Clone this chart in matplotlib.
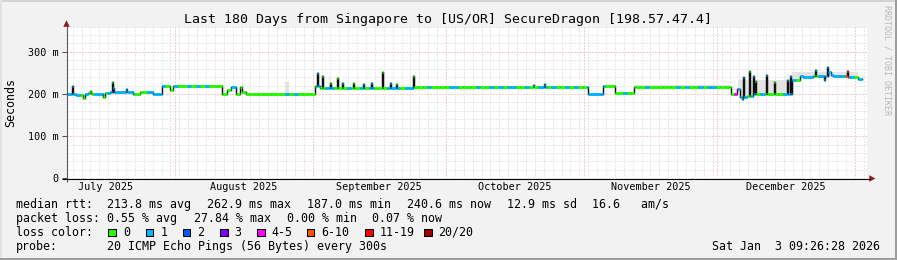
import numpy as np
import matplotlib
matplotlib.use("Agg")
import matplotlib.pyplot as plt
from matplotlib.collections import LineCollection
from matplotlib.patches import Rectangle, Polygon
from datetime import datetime, timedelta

plt.rcParams["font.family"] = ["DejaVu Sans Mono"]

# ---------------- data ----------------
TITLE = "Last 180 Days from Singapore to [US/OR] SecureDragon [198.57.47.4]"
WATERMARK = "RRDTOOL / TOBI OETIKER"
STAMP = "Sat Jan  3 09:26:28 2026"
AXIS_END = datetime(2026, 1, 3, 17, 26, 28)   # graph time axis (UTC+8 local)
SPAN_DAYS = 180
DATA_END = 178.9                              # last sample (days from left edge)

# median rtt baseline steps: start (days from left edge), value (ms)
base_day = [0.0, 2.0, 3.5, 4.1, 4.7, 5.6, 8.1, 8.6, 9.7, 10.8,
            14.9, 16.4, 19.4, 21.3, 23.2, 23.9,
            34.8, 36.0, 36.9, 38.0, 38.9, 39.4, 40.3, 55.8, 56.9, 59.2,
            74.0, 77.9, 117.3, 120.6,
            123.3, 127.6, 149.5, 150.8, 151.4, 153.0, 154.4, 163.1, 164.9, 165.6,
            167.9, 171.2, 171.9, 172.4, 175.5, 178.0]
base_ms = [200, 197, 190, 200, 203, 200, 192, 203, 205, 204,
           201, 204, 200, 218, 210, 218,
           200, 209, 217, 200, 217, 205, 200, 218, 215, 213,
           215, 217, 199, 218,
           203, 217, 199, 211, 193, 196, 201, 234, 243, 241,
           242, 251, 246, 242, 241, 236]

# short excursions of the median (one consolidation step wide)
spike_day = [1.06, 5.18, 10.06, 10.35, 13.28,
             56.2, 57.3, 59.2, 60.7, 61.8,
             64.4, 66.7, 68.3, 70.9, 72.7,
             74.0, 77.9, 104.9, 107.3,
             151.8, 152.2, 153.5, 154.3, 154.7,
             157.2, 159.1, 161.9, 162.7,
             168.3, 170.3, 170.9, 175.4]
spike_ms = [219, 208, 229, 214, 211,
            249, 242, 226, 239, 225,
            225, 223, 227, 252, 227,
            224, 242, 222, 223,
            187, 241, 254, 242, 231,
            245, 229, 233, 242,
            258, 233, 263, 254]
spike_loss = [1, 0, 0, 1, 1,
              1, 0, 0, 0, 1,
              0, 1, 1, 0, 1,
              0, 0, 1, 1,
              1, 1, 0, 1, 0,
              1, 0, 1, 1,
              1, 1, 1, 5]

# loss class per day (index into loss_colors)
loss_by_day = [1, 1, 1, 0, 1, 0, 1, 1, 0, 1,
               1, 1, 1, 1, 1, 0, 0, 0, 1, 1,
               1, 1, 0, 0, 1, 0, 0, 1, 0, 1,
               0, 1, 0, 0, 0, 0, 0, 1, 0, 0,
               0, 0, 0, 0, 0, 0, 0, 0, 0, 1,
               0, 1, 0, 0, 0, 0, 1, 0, 1, 1,
               0, 0, 0, 1, 0, 0, 1, 0, 1, 0,
               0, 0, 1, 1, 1, 0, 1, 1, 0, 0,
               0, 1, 0, 0, 0, 0, 1, 1, 0, 0,
               0, 0, 1, 0, 0, 1, 0, 1, 0, 1,
               1, 0, 0, 1, 0, 0, 1, 1, 0, 1,
               0, 0, 1, 0, 1, 0, 0, 1, 1, 1,
               1, 0, 0, 0, 0, 1, 0, 0, 0, 0,
               1, 0, 0, 0, 0, 0, 0, 1, 0, 1,
               0, 0, 1, 0, 1, 1, 0, 0, 0, 0,
               4, 1, 1, 0, 1, 0, 1, 0, 0, 0,
               0, 1, 1, 1, 0, 1, 1, 1, 0, 1,
               1, 1, 1, 1, 1, 5, 1, 0, 1, 1]

# smoke (spread of the pings above the median)
smoke_start = [49.0, 59.0, 60.5, 120.6, 127.6, 151.0, 163.1]
smoke_end = [49.3, 59.4, 60.9, 123.3, 149.5, 163.1, 178.0]
smoke_ms = [229, 237, 241, 221, 222, 234, 252]

y_ticks = [0, 100, 200, 300]
y_tick_labels = ["0", "100 m", "200 m", "300 m"]
month_labels = ["July 2025", "August 2025", "September 2025",
                "October 2025", "November 2025", "December 2025"]

loss_labels = ["0", "1", "2", "3", "4-5", "6-10", "11-19", "20/20"]
loss_colors = ["#26ff00", "#00b8ff", "#0059ff", "#7e00ff",
               "#ff00ff", "#ff5500", "#ff0000", "#a10000"]

rtt_items = ["213.8 ms avg", "262.9 ms max", "187.0 ms min",
             "240.6 ms now", "12.9 ms sd", "16.6   am/s"]
loss_items = ["0.55 % avg", "27.84 % max", "0.00 % min", "0.07 % now"]
probe_text = "20 ICMP Echo Pings (56 Bytes) every 300s"

# ---------------- layout (pixels) ----------------
W, H = 897, 260
L, R, T, B = 67.0, 867.0, 26.5, 178.3
fig = plt.figure(figsize=(W / 100, H / 100), dpi=100, facecolor="#f2f2f2")
ax = fig.add_axes([L / W, 1 - B / H, (R - L) / W, (B - T) / H])
ax.set_facecolor("white")
ax.set_xlim(0, SPAN_DAYS)
ax.set_ylim(0, 360)
for s in ax.spines.values():
    s.set_visible(False)
ax.set_xticks([])
ax.set_yticks(y_ticks)
ax.set_yticklabels(y_tick_labels, fontsize=7.25)
ax.tick_params(axis="y", length=3.6, width=0.75, color="#505050", pad=2.2)

start = AXIS_END - timedelta(days=SPAN_DAYS)


def day_of(dt):
    return (dt - start).total_seconds() / 86400.0


# grid
minor_x = []
d = datetime(start.year, start.month, start.day) + timedelta(days=1)
epoch = datetime(1970, 1, 1)
while d < AXIS_END:
    if (d - epoch).days % 2 == 0 and d.day != 1:
        minor_x.append(day_of(d))
    d += timedelta(days=1)
month_starts = [datetime(2025, m, 1) for m in range(8, 13)] + [datetime(2026, 1, 1)]
major_x = [day_of(m) for m in month_starts]
minor_y = [v for v in range(20, 361, 20) if v % 100 != 0]
dash = (0, (1, 2))
ax.vlines(minor_x, 0, 360, colors="#d2d2d2", linestyles=dash, lw=0.72, zorder=0.5)
ax.hlines(minor_y, 0, SPAN_DAYS, colors="#d2d2d2", linestyles=dash, lw=0.72, zorder=0.5)
ax.vlines(major_x, 0, 360, colors="#e8a0a0", linestyles=dash, lw=0.72, zorder=0.6)
ax.hlines(y_ticks[1:], 0, SPAN_DAYS, colors="#e8a0a0", linestyles=dash, lw=0.72, zorder=0.6)

# build step series from baseline + spikes
w = 0.225
edges = set(base_day) | set(float(i) for i in range(0, 180)) | set(spike_day) \
    | set(sd + w for sd in spike_day) | {DATA_END}
edges = np.array(sorted(e for e in edges if 0 <= e <= DATA_END))
a, b = edges[:-1], edges[1:]
idx = np.searchsorted(np.array(base_day), a, side="right") - 1
val = np.array(base_ms, float)[idx]
loss = np.array(loss_by_day)[np.floor(a).astype(int)]
for sd, sm, sl in zip(spike_day, spike_ms, spike_loss):
    m = (a >= sd - 1e-9) & (a < sd + w - 1e-9)
    val[m] = sm
    loss[m] = sl

# smoke
for s0, s1, top in zip(smoke_start, smoke_end, smoke_ms):
    m = (a >= s0 - 1e-9) & (a < s1 - 1e-9)
    if not m.any():
        continue
    xs = np.append(a[m], b[m][-1])
    lo = np.minimum(val[m], top)
    ax.fill_between(xs, np.append(lo, lo[-1]), top, step="post",
                    color="#e3e3e3", lw=0, zorder=1)

# dark median (shows the jumps)
ax.step(np.append(a, b[-1]), np.append(val, val[-1]), where="post",
        color="#101010", lw=1.05, zorder=2)
# coloured median by loss class
segs = [[(x0, v), (x1, v)] for x0, x1, v in zip(a, b, val)]
cols = [loss_colors[k] for k in loss]
ax.add_collection(LineCollection(segs, colors=cols, linewidths=2.16,
                                 capstyle="butt", zorder=3))

# ---------------- overlay in pixel coordinates ----------------
ov = fig.add_axes([0, 0, 1, 1], zorder=5)
ov.set_xlim(0, W)
ov.set_ylim(H, 0)
ov.axis("off")

# frame shading
ov.add_patch(Rectangle((0, 0), W, 2, color="#d4d4d4", lw=0))
ov.add_patch(Rectangle((0, 0), 2, H, color="#e2e2e2", lw=0))
ov.add_patch(Rectangle((0, H - 2.5), W, 2.5, color="#9d9d9d", lw=0))
ov.add_patch(Rectangle((W - 2.5, 0), 2.5, H, color="#9d9d9d", lw=0))

# axes lines and arrows
ov.plot([66.5, 66.5], [182, 26], color="#5a5a5a", lw=0.8, solid_capstyle="butt")
ov.plot([62, 869.5], [178.5, 178.5], color="#000000", lw=0.8, solid_capstyle="butt")
ov.add_patch(Polygon([[63.3, 26.8], [69.8, 26.8], [66.5, 20.3]], closed=True,
                     color="#8b1a1a", lw=0))
ov.add_patch(Polygon([[869.3, 175.2], [869.3, 181.8], [875.3, 178.5]], closed=True,
                     color="#8b1a1a", lw=0))

# title, axis label, watermark
ov.text(448, 19, TITLE, ha="center", va="center", fontsize=9.57, color="black")
ov.text(10.5, 102.5, "Seconds", rotation=90, ha="center", va="center",
        fontsize=8.37, color="black")
ov.text(887.5, 5, WATERMARK, rotation=270, ha="center", va="top",
        fontsize=6.0, color="#b8b8b8")

# month labels at month middles
xdisp = lambda dd: L + (R - L) * dd / SPAN_DAYS
for i, lab in enumerate(month_labels):
    m0 = datetime(2025, 7 + i, 1)
    m1 = datetime(2025, 8 + i, 1) if i < 5 else datetime(2026, 1, 1)
    mid = day_of(m0 + (m1 - m0) / 2)
    ov.text(xdisp(mid), 187.5, lab, ha="center", va="center", fontsize=7.25)

# legend
fs = 8.37
rows = [204.3, 218.3, 232.3, 246.3]
ov.text(16, rows[0], "median rtt:", va="center", fontsize=fs)
for x, t in zip([107.3, 207.3, 307.0, 406.7, 506.6, 592.3], rtt_items):
    ov.text(x, rows[0], t, va="center", fontsize=fs)
ov.text(16, rows[1], "packet loss:", va="center", fontsize=fs)
for x, t in zip([107.3, 193.5, 286.7, 372.3], loss_items):
    ov.text(x, rows[1], t, va="center", fontsize=fs)
ov.text(16, rows[2], "loss color:", va="center", fontsize=fs)
for x, t, c in zip([108.3, 145.7, 182.7, 220.0, 257.0, 306.7, 365.3, 424.0],
                   loss_labels, loss_colors):
    ov.add_patch(Rectangle((x, 228.5), 7.5, 7.5, facecolor=c, edgecolor="black", lw=0.75))
    ov.text(x + 14.5, rows[2], t, va="center", fontsize=fs)
ov.text(16, rows[3], "probe:", va="center", fontsize=fs)
ov.text(107.3, rows[3], probe_text, va="center", fontsize=fs)
ov.text(880.5, rows[3], STAMP, ha="right", va="center", fontsize=fs)

fig.savefig("out.png", dpi=100, facecolor=fig.get_facecolor())
